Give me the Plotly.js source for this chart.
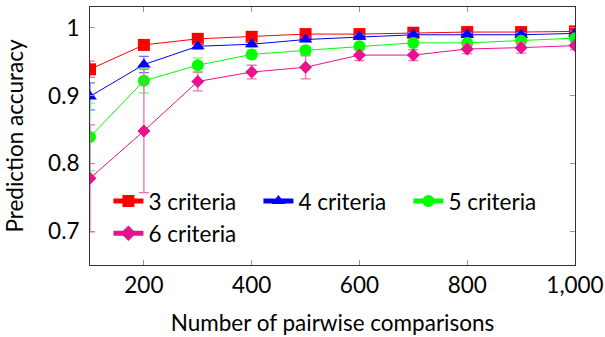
<!DOCTYPE html>
<html>
<head>
<meta charset="utf-8">
<script src="https://cdn.plot.ly/plotly-3.0.1.min.js"></script>
<style>html,body{margin:0;padding:0;background:#fff;}#chart{width:605px;height:337px;}</style>
</head>
<body>
<div id="chart"></div>
<script>
const comparisons = [100, 200, 300, 400, 500, 600, 700, 800, 900, 1000];

const crit3 = [0.939, 0.975, 0.984, 0.987, 0.991, 0.991, 0.993, 0.994, 0.994, 0.995];
const crit3Err = [0.012, 0.006, 0.003, 0.003, 0.003, 0.003, 0.002, 0.002, 0.002, 0.002];

const crit4 = [0.899, 0.946, 0.973, 0.976, 0.983, 0.987, 0.990, 0.990, 0.990, 0.992];
const crit4Err = [0.02, 0.012, 0.004, 0.004, 0.003, 0.003, 0.003, 0.003, 0.003, 0.003];

const crit5 = [0.839, 0.922, 0.945, 0.961, 0.967, 0.973, 0.978, 0.978, 0.981, 0.985];
const crit5Err = [0.05, 0.018, 0.011, 0.006, 0.006, 0.005, 0.004, 0.004, 0.004, 0.004];

const crit6 = [0.778, 0.848, 0.921, 0.935, 0.942, 0.960, 0.960, 0.969, 0.971, 0.974];
const crit6Err = [0.079, 0.091, 0.014, 0.01, 0.017, 0.008, 0.008, 0.007, 0.008, 0.006];

const names = ["3 criteria", "4 criteria", "5 criteria", "6 criteria"];

const font = "Lato, 'DejaVu Sans', sans-serif";
const fs = 22.5;

function trace(name, y, err, color, errColor, symbol, size) {
  return {
    x: comparisons, y: y, name: name, type: "scatter", mode: "lines+markers",
    line: {color: color, width: 1},
    marker: {color: color, symbol: symbol, size: size},
    error_y: {type: "data", array: err, visible: true, color: errColor, thickness: 1.3, width: 5}
  };
}

const data = [
  trace(names[0], crit3, crit3Err, "#ff0000", "#ff7070", "square", 12),
  trace(names[1], crit4, crit4Err, "#0000ff", "#7070ff", "triangle-up", 12),
  trace(names[2], crit5, crit5Err, "#00ff00", "#70ff70", "circle", 12),
  trace(names[3], crit6, crit6Err, "#e8128c", "#f070b8", "diamond", 10)
];

const layout = {
  width: 605, height: 337,
  margin: {l: 90, r: 30, t: 7, b: 72},
  paper_bgcolor: "#fff", plot_bgcolor: "#fff",
  font: {family: font, size: fs, color: "#000"},
  showlegend: true,
  legend: {
    orientation: "h", x: 0.038, y: 0.33, xanchor: "left", yanchor: "top",
    bgcolor: "rgba(255,255,255,0)", font: {family: font, size: fs},
    entrywidth: 105, entrywidthmode: "pixels", itemsizing: "constant"
  },
  xaxis: {
    range: [100, 1000],
    tickvals: [200, 400, 600, 800, 1000],
    tickformat: ",d",
    ticks: "inside", ticklen: 5, tickcolor: "#999",
    showgrid: false, zeroline: false,
    showline: true, linecolor: "#333", linewidth: 1, mirror: "ticks",
    title: {text: "Number of pairwise comparisons", font: {family: font, size: fs}, standoff: 18},
    tickfont: {family: font, size: fs}
  },
  yaxis: {
    range: [0.65, 1.031],
    tickvals: [0.7, 0.8, 0.9, 1],
    ticks: "inside", ticklen: 5, tickcolor: "#999",
    ticklabelstandoff: 5,
    showgrid: false, zeroline: false,
    showline: true, linecolor: "#333", linewidth: 1, mirror: "ticks",
    title: {text: "Prediction accuracy", font: {family: font, size: fs}, standoff: 18},
    tickfont: {family: font, size: fs}
  }
};

Plotly.newPlot("chart", data, layout, {displayModeBar: false, staticPlot: true});
</script>
</body>
</html>
